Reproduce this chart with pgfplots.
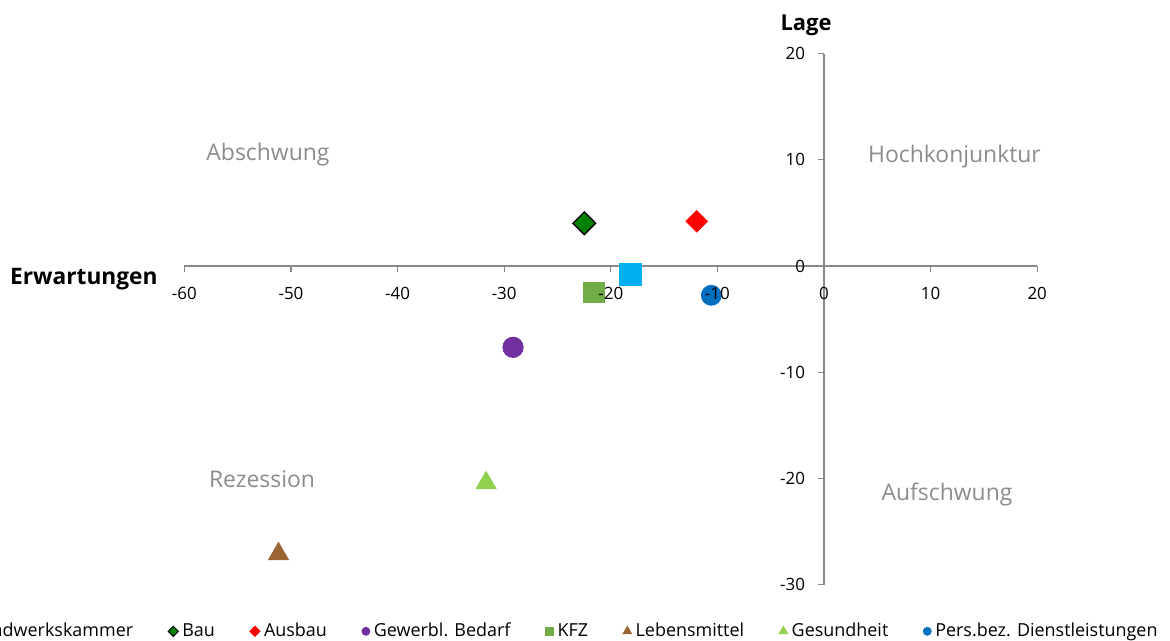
\documentclass[border=0pt]{standalone}
\usepackage{fontspec}
\setmainfont{Open Sans}
\usepackage{pgfplots}
\pgfplotsset{compat=1.18}
\definecolor{axgray}{HTML}{898989}
\definecolor{qgray}{HTML}{8C8C8C}
\definecolor{hwk}{HTML}{00B0F0}
\definecolor{bau}{HTML}{008000}
\definecolor{ausbau}{HTML}{FF0000}
\definecolor{gewerbl}{HTML}{7030A0}
\definecolor{kfz}{HTML}{70AD47}
\definecolor{lebens}{HTML}{996633}
\definecolor{gesund}{HTML}{92D050}
\definecolor{pers}{HTML}{0070C0}
\pgfplotsset{
  myframe/.style={
    x=5.33bp, y=5.31bp,
    xmin=-60, xmax=20, ymin=-30, ymax=20,
    axis lines=middle,
    anchor=origin, at={(412bp,-133bp)},
    xtick={-60,-50,...,20}, ytick={-30,-20,...,20},
    hide obscured x ticks=false, hide obscured y ticks=false,
    tick align=outside, major tick length=3bp,
    ticklabel style={font=\fontsize{8.5}{10}\selectfont, text=black},
    /pgf/number format/assume math mode=true,
    xticklabel style={yshift=-4bp},
    yticklabel style={xshift=-3bp},
    clip=false,
  }
}
\begin{document}
\begin{tikzpicture}
\begin{axis}[
  myframe,
  axis line style={-, draw=axgray, line width=0.6bp},
  tick style={draw=axgray, line width=0.6bp},
  xticklabel={\phantom{0}}, yticklabel={\phantom{0}},
  legend columns=-1,
  legend style={draw=none, fill=none, at={(axis cs:31.7,-34.4)}, anchor=east, inner sep=0pt,
    font=\fontsize{9}{10}\selectfont,
    /tikz/every even column/.append style={column sep=15.5bp}},
  legend image code/.code={\draw[#1] plot coordinates {(0bp,0bp)};},
]
% data
\addplot[only marks, forget plot, mark=square*, mark size=5.6bp, mark options={fill=hwk, draw=hwk}] coordinates {(-18.17,-0.78)};
\addplot[only marks, forget plot, mark=square*, mark size=4bp, mark options={rotate=45, fill=bau, draw=black, line width=0.7bp}] coordinates {(-22.49,4.02)};
\addplot[only marks, forget plot, mark=square*, mark size=3.8bp, mark options={rotate=45, fill=ausbau, draw=ausbau}] coordinates {(-11.94,4.21)};
\addplot[only marks, forget plot, mark=*, mark size=5.1bp, mark options={fill=gewerbl, draw=gewerbl}] coordinates {(-29.17,-7.66)};
\addplot[only marks, forget plot, mark=square*, mark size=5.2bp, mark options={fill=kfz, draw=kfz}] coordinates {(-21.6,-2.48)};
\addplot[only marks, forget plot, mark=triangle*, mark size=5.8bp, mark options={yshift=-1.5bp, fill=lebens, draw=lebens}] coordinates {(-51.17,-26.84)};
\addplot[only marks, forget plot, mark=triangle*, mark size=5.8bp, mark options={yshift=-1.5bp, fill=gesund, draw=gesund}] coordinates {(-31.7,-20.15)};
\addplot[only marks, forget plot, mark=*, mark size=5bp, mark options={fill=pers, draw=pers}] coordinates {(-10.57,-2.76)};
% legend
\addlegendimage{only marks, mark=square*, mark size=2bp, mark options={fill=hwk, draw=hwk}}
\addlegendentry{Handwerkskammer}
\addlegendimage{only marks, mark=square*, mark size=1.8bp, mark options={rotate=45, fill=bau, draw=black, line width=0.5bp}}
\addlegendentry{Bau}
\addlegendimage{only marks, mark=square*, mark size=1.8bp, mark options={rotate=45, fill=ausbau, draw=ausbau}}
\addlegendentry{Ausbau}
\addlegendimage{only marks, mark=*, mark size=2bp, mark options={fill=gewerbl, draw=gewerbl}}
\addlegendentry{Gewerbl. Bedarf}
\addlegendimage{only marks, mark=square*, mark size=2bp, mark options={fill=kfz, draw=kfz}}
\addlegendentry{KFZ}
\addlegendimage{only marks, mark=triangle*, mark size=2.5bp, mark options={fill=lebens, draw=lebens}}
\addlegendentry{Lebensmittel}
\addlegendimage{only marks, mark=triangle*, mark size=2.5bp, mark options={fill=gesund, draw=gesund}}
\addlegendentry{Gesundheit}
\addlegendimage{only marks, mark=*, mark size=2bp, mark options={fill=pers, draw=pers}}
\addlegendentry{Pers.bez. Dienstleistungen}
% labels
\node[anchor=east, inner sep=0pt, font=\fontsize{11.4}{13}\selectfont\bfseries] at (axis cs:-62.48,-1.22) {Erwartungen};
\node[inner sep=0pt, font=\fontsize{11}{13}\selectfont\bfseries] at (axis cs:-1.69,22.7) {Lage};
\node[inner sep=0pt, text=qgray, font=\fontsize{11.5}{13}\selectfont] at (axis cs:-52.16,10.45) {Abschwung};
\node[inner sep=0pt, text=qgray, font=\fontsize{11.5}{13}\selectfont] at (axis cs:12.24,10.27) {Hochkonjunktur};
\node[inner sep=0pt, text=qgray, font=\fontsize{11.5}{13}\selectfont] at (axis cs:-52.72,-20.06) {Rezession};
\node[inner sep=0pt, text=qgray, font=\fontsize{11.5}{13}\selectfont] at (axis cs:11.54,-21.47) {Aufschwung};
\end{axis}
% overlay axis: tick labels only, drawn above the markers
\begin{axis}[
  myframe,
  axis line style={draw=none},
  tick style={draw=none},
]
\end{axis}
\pgfresetboundingbox
\path[use as bounding box] (0bp,0bp) rectangle (585bp,-320.5bp);
\end{tikzpicture}
\end{document}
